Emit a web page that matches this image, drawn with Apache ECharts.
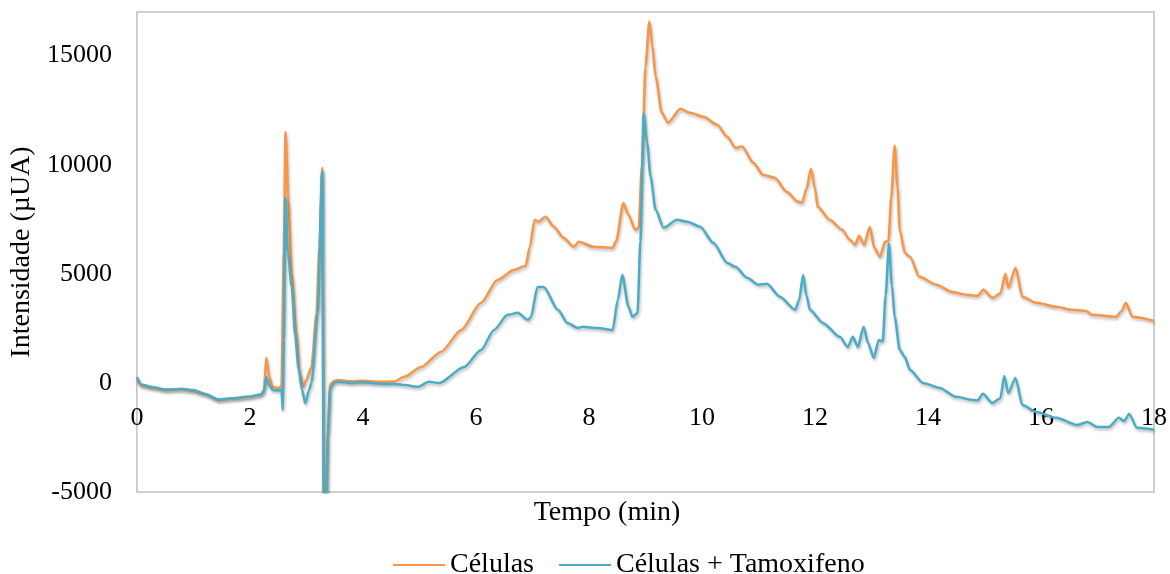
<!DOCTYPE html>
<html>
<head>
<meta charset="utf-8">
<script src="https://cdn.jsdelivr.net/npm/echarts@6/dist/echarts.min.js"></script>
<style>
  html, body { margin: 0; padding: 0; background: #ffffff; }
  #chart { width: 1170px; height: 574px; }
</style>
</head>
<body>
<div id="chart"></div>
<script>
// Chromatogram: intensity (µUA) versus retention time (min)
const seriesNames = ['Células', 'Células + Tamoxifeno'];
const xTicks = [0, 2, 4, 6, 8, 10, 12, 14, 16, 18];
const yTicks = [-5000, 0, 5000, 10000, 15000];

const tempoCelulas = [
  0, 0.08, 0.3, 0.5, 0.8, 1.0, 1.2, 1.45, 1.7, 2.0, 2.2, 2.25, 2.29, 2.34, 2.4, 2.5, 2.56,
  2.6, 2.63, 2.68, 2.74, 2.82, 2.88, 2.94, 3.0, 3.09, 3.18, 3.23, 3.28, 3.31, 3.35, 3.38, 3.42,
  3.5, 3.56, 3.8, 4.0, 4.3, 4.55, 4.73, 5.03, 5.38, 5.74, 6.09, 6.38, 6.67, 6.88, 6.95, 7.04,
  7.11, 7.23, 7.38, 7.55, 7.73, 7.82, 8.08, 8.42, 8.48, 8.61, 8.7, 8.82, 8.88, 8.94, 9.0, 9.07,
  9.12, 9.18, 9.29, 9.40, 9.62, 9.79, 10.03, 10.27, 10.45, 10.59, 10.71, 10.91, 11.08, 11.29,
  11.50, 11.70, 11.77, 11.85, 11.93, 12.0, 12.05, 12.26, 12.48, 12.62, 12.71, 12.78, 12.87,
  12.97, 13.05, 13.15, 13.24, 13.3, 13.35, 13.41, 13.46, 13.50, 13.59, 13.68, 13.85, 14.15,
  14.43, 14.68, 14.88, 14.98, 15.14, 15.28, 15.37, 15.42, 15.55, 15.67, 15.92, 16.27, 16.55,
  16.8, 16.9, 17.33, 17.43, 17.50, 17.62, 18.0
];
const intensCelulas = [
  230, -120, -230, -320, -280, -370, -520, -780, -720, -640, -540, -300, 1150, 300, -180, -230, -150,
  6000, 11500, 8400, 5050, 2300, 460, -170, 150, 730, 3200, 6200, 9850, -6500, -5500, -2200, -50,
  100, 130, 80, 100, 50, 60, 280, 730, 1420, 2430, 3670, 4720, 5180, 5370, 6200, 7480,
  7390, 7610, 7160, 6650, 6240, 6470, 6240, 6190, 6500, 8250, 7700, 7020, 7100, 10000, 14500, 16560,
  15500, 14040, 12380, 11930, 12570, 12380, 12200, 11830, 11280, 10780, 10830, 10090, 9540, 9400,
  8760, 8300, 8260, 8900, 9820, 8900, 8070, 7480, 7020, 6560, 6330, 6740, 6330,
  7160, 6190, 5780, 6470, 6500, 8500, 10870, 9000, 7020, 5960, 5780, 4860, 4500,
  4170, 4040, 3990, 4270, 3900, 4100, 5000, 4360, 5280, 3950, 3670, 3490, 3350,
  3300, 3120, 3030, 3300, 3670, 3030, 2840
];

const tempoTamoxifeno = [
  0, 0.08, 0.3, 0.5, 0.8, 1.0, 1.2, 1.45, 1.7, 2.0, 2.2, 2.25, 2.29, 2.34, 2.4, 2.5, 2.56, 2.58,
  2.6, 2.63, 2.67, 2.74, 2.8, 2.86, 2.92, 2.98, 3.05, 3.09, 3.2, 3.28, 3.31, 3.35, 3.38, 3.42,
  3.5, 3.56, 3.8, 4.0, 4.32, 4.55, 4.75, 4.97, 5.17, 5.35, 5.79, 6.09, 6.32, 6.56, 6.74, 6.92,
  6.97, 7.09, 7.20, 7.45, 7.62, 7.80, 7.89, 8.15, 8.42, 8.51, 8.59, 8.70, 8.77, 8.86, 8.91, 8.97,
  9.03, 9.09, 9.18, 9.32, 9.56, 9.74, 9.97, 10.20, 10.45, 10.59, 10.80, 11.0, 11.15, 11.38,
  11.65, 11.72, 11.79, 11.85, 11.91, 12.14, 12.44, 12.58, 12.67, 12.76, 12.86, 12.94, 13.04,
  13.13, 13.20, 13.25, 13.31, 13.36, 13.41, 13.50, 13.59, 13.68, 13.91, 14.21, 14.50, 14.79,
  14.88, 14.97, 15.14, 15.28, 15.35, 15.42, 15.55, 15.67, 15.92, 16.27, 16.64, 16.82, 17.0,
  17.2, 17.38, 17.47, 17.56, 17.70, 18.0
];
const intensTamoxifeno = [
  270, -80, -200, -300, -280, -330, -500, -760, -700, -620, -520, -400, 275, -100, -320, -350, -300, -1240,
  2000, 8500, 6000, 4400, 2200, 700, -300, -930, -300, 0, 3200, 9700, -7000, -6000, -2500, -250,
  20, 50, 0, 30, -40, -50, -100, -180, 50, 0, 730, 1510, 2430, 3120, 3210, 2890,
  3000, 4400, 4400, 3350, 2750, 2520, 2570, 2520, 2430, 3800, 4950, 3490, 3030, 3200, 6500, 12340,
  11000, 9450, 7940, 7110, 7480, 7390, 7160, 6420, 5500, 5320, 4820, 4500, 4540, 3950,
  3350, 3800, 4950, 4000, 3350, 2750, 2110, 1650, 2110, 1650, 2570, 1830, 1150,
  1970, 1900, 4000, 6380, 4500, 3030, 1510, 1190, 600, 0, -230, -640, -780,
  -800, -500, -920, -700, 320, -460, 230, -1010, -1330, -1600, -1930, -1790, -2020,
  -2020, -1600, -1750, -1420, -2060, -2150
];

const zip = (xs, ys) => xs.map((x, i) => [x, ys[i]]);

const FONT = "'Liberation Serif', 'Times New Roman', serif";
const GRID = { left: 135, right: 15, top: 12, bottom: 82 };
const shadow = { shadowColor: 'rgba(0,0,0,0.28)', shadowBlur: 3, shadowOffsetX: 1, shadowOffsetY: 2 };

const chart = echarts.init(document.getElementById('chart'), null, { renderer: 'canvas' });
chart.setOption({
  backgroundColor: '#ffffff',
  animation: false,
  textStyle: { fontFamily: FONT, color: '#000' },
  grid: Object.assign({
    show: true, borderColor: '#c0c0c0', borderWidth: 1.5, backgroundColor: 'transparent'
  }, GRID),
  legend: {
    data: seriesNames,
    left: 388, top: 546,
    itemWidth: 52, itemHeight: 14, itemGap: 25,
    icon: 'path://M0,6 L52,6 L52,8 L0,8 Z',
    textStyle: { fontFamily: FONT, fontSize: 28, color: '#000' }
  },
  xAxis: {
    type: 'value',
    min: xTicks[0], max: xTicks[xTicks.length - 1], interval: 2,
    axisLine: { show: false, onZero: false },
    axisTick: { show: false },
    splitLine: { show: false },
    axisLabel: { fontFamily: FONT, fontSize: 26, color: '#000', margin: 22 }
  },
  yAxis: {
    type: 'value',
    min: yTicks[0], max: 17000, interval: 5000,
    name: 'Intensidade (µUA)',
    nameLocation: 'middle', nameGap: 98,
    nameTextStyle: { fontFamily: FONT, fontSize: 28, color: '#000' },
    axisLine: { show: false },
    axisTick: { show: false },
    splitLine: { show: false },
    axisLabel: {
      fontFamily: FONT, fontSize: 26, color: '#000', margin: 25,
      formatter: v => (yTicks.indexOf(v) >= 0 ? String(v) : '')
    }
  },
  graphic: [{
    type: 'text',
    x: 607, y: 513,
    style: {
      text: 'Tempo (min)', font: '28px ' + FONT, fill: '#000',
      textAlign: 'center', textVerticalAlign: 'middle'
    }
  }],
  series: [{
    name: seriesNames[0],
    type: 'line',
    data: zip(tempoCelulas, intensCelulas),
    symbol: 'none', smooth: 0.25, smoothMonotone: 'x',
    color: '#F79646',
    lineStyle: Object.assign({ color: '#F79646', width: 2.5 }, shadow)
  }, {
    name: seriesNames[1],
    type: 'line',
    data: zip(tempoTamoxifeno, intensTamoxifeno),
    symbol: 'none', smooth: 0.25, smoothMonotone: 'x',
    color: '#4BACC6',
    lineStyle: Object.assign({ color: '#4BACC6', width: 2.5 }, shadow)
  }]
});

// Put the time labels along the zero-intensity line, where the horizontal axis crosses.
const zeroY = chart.convertToPixel({ yAxisIndex: 0 }, 0);
const gridBottomY = chart.getHeight() - GRID.bottom;
chart.setOption({ xAxis: { offset: zeroY - gridBottomY } });
</script>
</body>
</html>
